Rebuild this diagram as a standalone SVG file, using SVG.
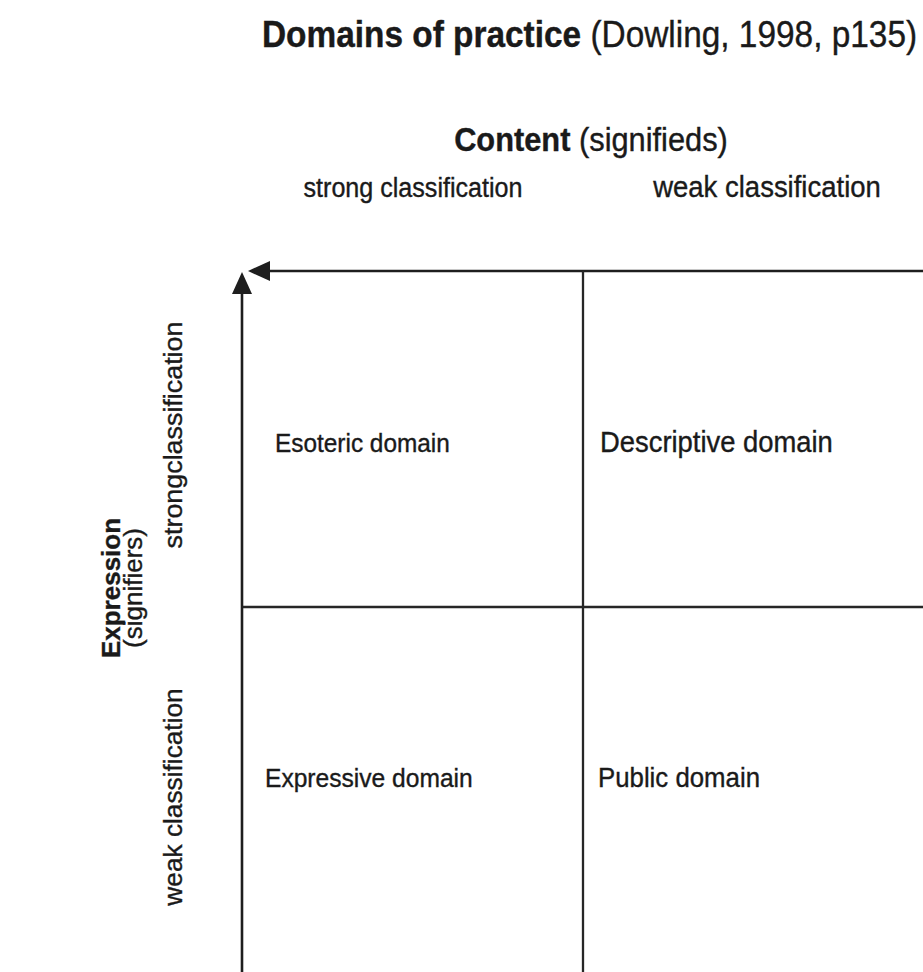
<svg xmlns="http://www.w3.org/2000/svg" width="923" height="972" viewBox="0 0 923 972">
  <style>
    text { font-family: "Liberation Sans", Arial, sans-serif; fill: #1a1a1a; stroke: #1a1a1a; stroke-width: 0.35; }
    .b { font-weight: bold; }
    .ax { stroke: #1e1e1e; stroke-width: 2.6; fill: none; }
    .grid { stroke: #262626; stroke-width: 2.3; fill: none; }
  </style>
  <defs>
    <marker id="head" viewBox="0 0 22 20" refX="0" refY="10" markerWidth="22" markerHeight="20" markerUnits="userSpaceOnUse" orient="auto">
      <path d="M0,0 L22,10 L0,20 z" fill="#1e1e1e"/>
    </marker>
  </defs>

  <rect width="923" height="972" fill="#ffffff"/>

  <!-- heading -->
  <g id="title">
    <text transform="matrix(1 0 0 1.08 262 47)" font-size="33.4"><tspan class="b">Domains of practice</tspan> (Dowling, 1998, p135)</text>
  </g>

  <!-- content axis labels -->
  <g id="content-axis">
    <text transform="matrix(1 0 0 1.08 591 151)" font-size="30.8" text-anchor="middle"><tspan class="b">Content</tspan> (signifieds)</text>
    <text transform="matrix(1 0 0 1.08 413 197)" font-size="25.1" text-anchor="middle">strong classification</text>
    <text transform="matrix(1 0 0 1.08 767 197)" font-size="27.5" text-anchor="middle">weak classification</text>
  </g>

  <!-- expression axis labels -->
  <g id="expression-axis">
    <text class="b" transform="translate(120,588) rotate(-90)" font-size="26" text-anchor="middle">Expression</text>
    <text transform="translate(142,588) rotate(-90)" font-size="26" text-anchor="middle">(signifiers)</text>
    <text transform="translate(182,435) rotate(-90) scale(1.075,1)" font-size="25" text-anchor="middle">strongclassification</text>
    <text transform="translate(182,797) rotate(-90) scale(1.05,1)" font-size="25" text-anchor="middle">weak classification</text>
  </g>

  <!-- axes and grid lines -->
  <g id="connectors">
    <line class="ax" x1="923" y1="271" x2="270" y2="271" marker-end="url(#head)"/>
    <line class="ax" x1="242" y1="972" x2="242" y2="294" marker-end="url(#head)"/>
    <line class="grid" x1="583" y1="271" x2="583" y2="972"/>
    <line class="grid" x1="243" y1="607" x2="923" y2="607"/>
  </g>

  <!-- quadrants -->
  <g id="esoteric">
    <text transform="matrix(1 0 0 1.08 275 452)" font-size="24.4">Esoteric domain</text>
  </g>
  <g id="descriptive">
    <text transform="matrix(1 0 0 1.08 600 452)" font-size="27.4">Descriptive domain</text>
  </g>
  <g id="expressive">
    <text transform="matrix(1 0 0 1.08 265 787)" font-size="24.6">Expressive domain</text>
  </g>
  <g id="public">
    <text transform="matrix(1 0 0 1.08 598 787)" font-size="25.8">Public domain</text>
  </g>
</svg>
